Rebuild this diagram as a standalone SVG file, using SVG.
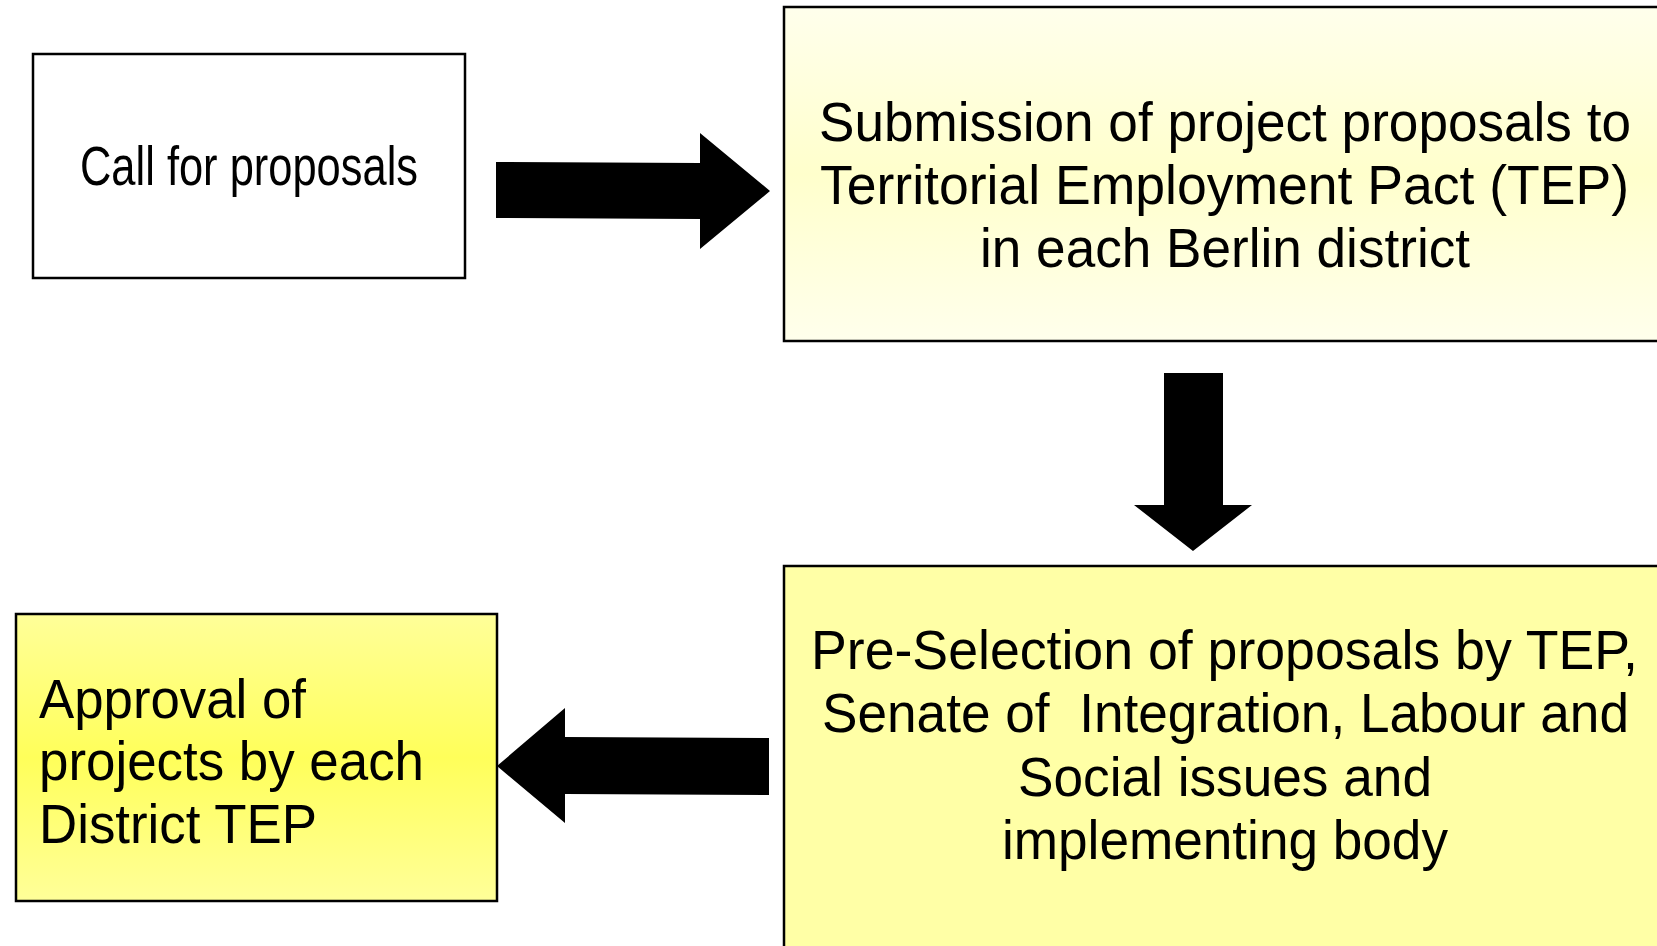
<svg xmlns="http://www.w3.org/2000/svg" width="1657" height="946" viewBox="0 0 1657 946">
<defs>
<linearGradient id="g2" x1="0" y1="0" x2="0" y2="1">
<stop offset="0" stop-color="#FFFFEC"/>
<stop offset="0.5" stop-color="#FFFFCC"/>
<stop offset="1" stop-color="#FFFFEC"/>
</linearGradient>
<linearGradient id="g4" x1="0" y1="0" x2="0" y2="1">
<stop offset="0" stop-color="#FFFF99"/>
<stop offset="0.5" stop-color="#FFFF5A"/>
<stop offset="1" stop-color="#FFFF99"/>
</linearGradient>
<style>
.box{stroke:#000;stroke-width:2.5}
.t{font-family:"Liberation Sans",Arial,sans-serif;font-size:56px;fill:#000}
.arrow{fill:#000}
</style>
</defs>
<rect width="1657" height="946" fill="#fff"/>
<g id="node-call">
<rect class="box" x="33" y="54" width="432" height="224" fill="#fff"/>
<text class="t" x="80" y="185" textLength="338" lengthAdjust="spacingAndGlyphs">Call for proposals</text>
</g>
<g id="node-submission">
<rect class="box" x="784" y="7" width="890" height="334" fill="url(#g2)"/>
<text class="t" x="819" y="141" textLength="812" lengthAdjust="spacingAndGlyphs">Submission of project proposals to</text>
<text class="t" x="820" y="204" textLength="809" lengthAdjust="spacingAndGlyphs">Territorial Employment Pact (TEP)</text>
<text class="t" x="980" y="267" textLength="490" lengthAdjust="spacingAndGlyphs">in each Berlin district</text>
</g>
<g id="node-preselection">
<rect class="box" x="784" y="566" width="890" height="400" fill="#FFFFA6"/>
<text class="t" x="811" y="669" textLength="827" lengthAdjust="spacingAndGlyphs">Pre-Selection of proposals by TEP,</text>
<text class="t" x="822" y="732" textLength="807" lengthAdjust="spacingAndGlyphs" xml:space="preserve">Senate of  Integration, Labour and</text>
<text class="t" x="1018" y="796" textLength="414" lengthAdjust="spacingAndGlyphs">Social issues and</text>
<text class="t" x="1002" y="859" textLength="446" lengthAdjust="spacingAndGlyphs">implementing body</text>
</g>
<g id="node-approval">
<rect class="box" x="16" y="614" width="481" height="287" fill="url(#g4)"/>
<text class="t" x="39" y="718" textLength="267" lengthAdjust="spacingAndGlyphs">Approval of</text>
<text class="t" x="39" y="780" textLength="385" lengthAdjust="spacingAndGlyphs">projects by each</text>
<text class="t" x="39" y="843" textLength="278" lengthAdjust="spacingAndGlyphs">District TEP</text>
</g>
<g id="connectors">
<polygon class="arrow" points="496,162 700,163 700,133 770,191 700,249 700,219 496,218"/>
<polygon class="arrow" points="1164,373 1223,373 1223,505 1252,505 1193,551 1134,505 1164,505"/>
<polygon class="arrow" points="769,738 769,795 565,794 565,823 497,766 565,708 565,737"/>
</g>
</svg>
